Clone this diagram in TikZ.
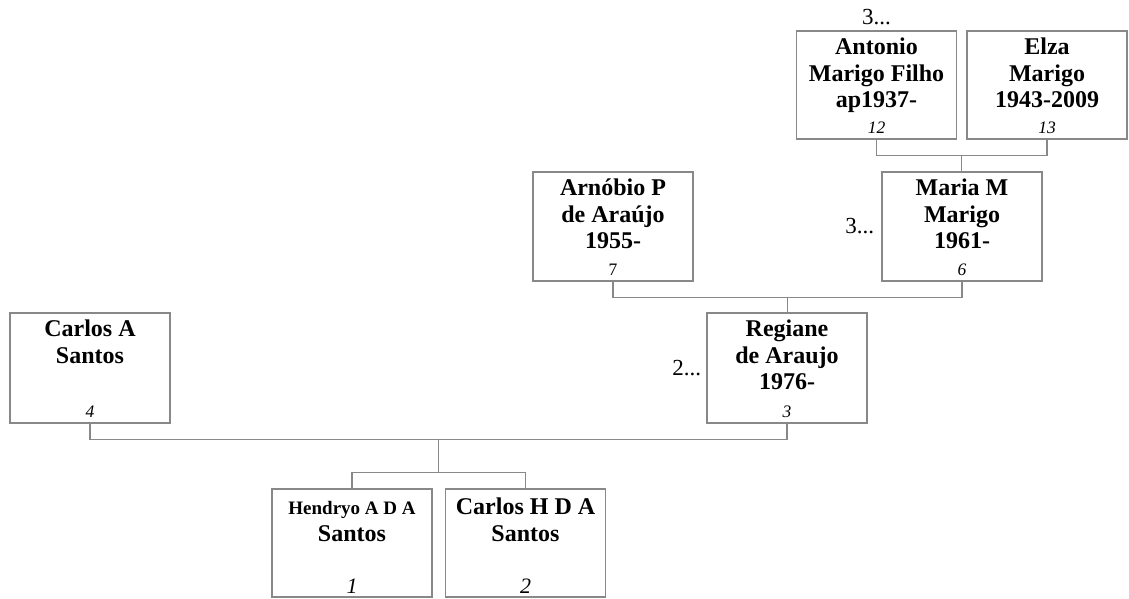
\documentclass[tikz,border=0pt]{standalone}
\usepackage{fontspec}
\setmainfont{Liberation Serif}
\usetikzlibrary{calc}
\definecolor{linegray}{RGB}{136,136,136}
\begin{document}
\begin{tikzpicture}[x=1pt,y=-1pt,
  pbox/.style={draw=linegray, line width=1.3pt, minimum width=160pt, inner sep=0pt},
  pname/.style={anchor=north, inner sep=0pt, align=center, font=\bfseries\fontsize{24}{26.5}\selectfont},
  pnum/.style={anchor=base, inner sep=0pt, font=\itshape\fontsize{17.5}{19}\selectfont},
  pnumbig/.style={anchor=base, inner sep=0pt, font=\itshape\fontsize{22}{24}\selectfont},
  pnumup/.style={anchor=base, inner sep=0pt, font=\fontsize{17.5}{19}\selectfont},
  pmore/.style={inner sep=0pt, font=\fontsize{23}{25}\selectfont},
  link/.style={draw=linegray, line width=1.3pt}]
\useasboundingbox (0,0) rectangle (1129,599);

% boxes
\node[pbox, minimum height=110pt] (p4) at (90,368) {};
\node[pbox, minimum height=110pt] (p3) at (787,368) {};
\node[pbox, minimum height=109pt] (p7) at (613,226.5) {};
\node[pbox, minimum height=109pt] (p6) at (962,226.5) {};
\node[pbox, minimum height=108pt] (p12) at (876.5,85) {};
\node[pbox, minimum height=108pt] (p13) at (1047,85) {};
\node[pbox, minimum height=108pt] (p1) at (352,543) {};
\node[pbox, minimum height=108pt] (p2) at (525.5,543) {};

% names
\node[pname] (n4) at ([yshift=-5.5pt]p4.north) {\strut Carlos A\\Santos};
\node[pname] (n3) at ([yshift=-5.5pt]p3.north) {\strut Regiane\\de Araujo\\1976-};
\node[pname] (n7) at ([yshift=-5.5pt]p7.north) {\strut Arnóbio P\\de Araújo\\1955-};
\node[pname] (n6) at ([yshift=-5.5pt]p6.north) {\strut Maria M\\Marigo\\1961-};
\node[pname] (n12) at ([yshift=-5.5pt]p12.north) {\strut Antonio\\Marigo Filho\\ap1937-};
\node[pname] (n13) at ([yshift=-5.5pt]p13.north) {\strut Elza\\Marigo\\1943-2009};
\node[pname] (n1) at ([yshift=-7.5pt]p1.north) {\strut{\fontsize{19}{21}\selectfont Hendryo A D A}\\Santos};
\node[pname] (n2) at ([yshift=-7.5pt]p2.north) {\strut Carlos H D A\\Santos};

% numbers
\node[pnum] (k4) at ([yshift=6pt]p4.south) {4};
\node[pnum] (k3) at ([yshift=6pt]p3.south) {3};
\node[pnumup] (k7) at ([yshift=6pt]p7.south) {7};
\node[pnum] (k6) at ([yshift=6pt]p6.south) {6};
\node[pnum] (k12) at ([yshift=6pt]p12.south) {12};
\node[pnum] (k13) at ([yshift=6pt]p13.south) {13};
\node[pnumbig] (k1) at ([yshift=4pt]p1.south) {1};
\node[pnumbig] (k2) at ([yshift=4pt]p2.south) {2};

% continuation marks
\node[pmore, anchor=east] (m3) at ([xshift=-5pt]p3.west) {2...};
\node[pmore, anchor=east] (m6) at ([xshift=-7pt]p6.west) {3...};
\node[pmore, anchor=base] (m12) at ([yshift=6pt]p12.north) {3...};

% connectors
\coordinate (f6) at ($(p12.south)!0.5!(p13.south)+(0,16)$);
\draw[link] (p12.south) |- (f6) -| (p13.south);
\draw[link] (f6) -- (f6 |- p6.north);

\coordinate (f3) at ($(p7.south)!0.5!(p6.south)+(0,16)$);
\draw[link] (p7.south) |- (f3) -| (p6.south);
\draw[link] (f3) -- (f3 |- p3.north);

\coordinate (f1) at ($(p4.south)!0.5!(p3.south)+(0,16)$);
\coordinate (g1) at ($(p1.north)!0.5!(p2.north)+(0,-16)$);
\draw[link] (p4.south) |- (f1) -| (p3.south);
\draw[link] (f1) -- (f1 |- g1);
\draw[link] (p1.north) |- (g1) -| (p2.north);
\end{tikzpicture}
\end{document}
